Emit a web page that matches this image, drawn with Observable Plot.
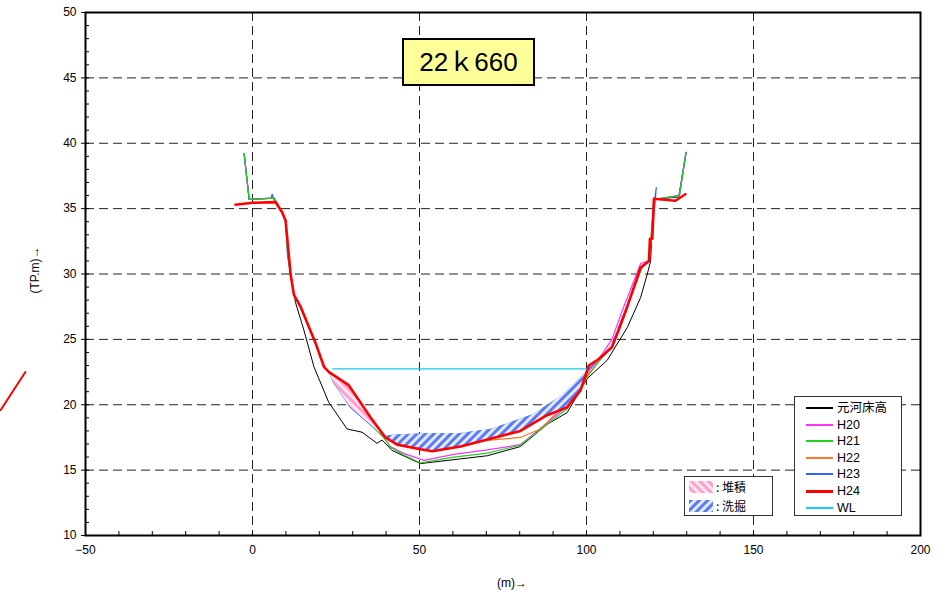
<!DOCTYPE html>
<html><head><meta charset="utf-8">
<script src="https://cdn.jsdelivr.net/npm/d3@7"></script>
<script src="https://cdn.jsdelivr.net/npm/@observablehq/plot@0.6"></script>
<style>
body{margin:0;background:#fff;font-family:"Liberation Sans",Arial,sans-serif}
#wrap{position:relative;width:952px;height:595px;overflow:hidden}
#wrap svg.main{position:absolute;left:0;top:0}
.ov{position:absolute;white-space:nowrap}
#title{left:402px;top:38px;width:129px;height:44px;background:#ffff99;border:2px solid #000;font-size:26px;line-height:44px;text-align:center;font-family:"Liberation Sans","Noto Sans CJK JP",sans-serif}
#ylab{left:35px;top:270px;font-size:12px;line-height:14px;transform:translate(-50%,-50%) rotate(-90deg)}
#xlab{left:512px;top:583px;font-size:12px;line-height:14px;transform:translate(-50%,-50%)}
#legend{left:794px;top:396px;width:106px;height:118px;border:1px solid #333;background:#fff;font-size:12.5px;font-family:"Liberation Sans","Noto Sans CJK JP",sans-serif}
.row{position:absolute;left:11px;height:16px;line-height:16px;display:flex;align-items:center}
.row span.sw{display:inline-block;width:27px;margin-right:4px}
#hlegend{left:684px;top:476px;width:87px;height:38px;border:1px solid #333;background:#fff;font-size:12px;font-family:"Noto Sans CJK JP",sans-serif}
.hrow{position:absolute;left:4px;height:16px;line-height:16px;display:flex;align-items:center}
</style></head><body><div id="wrap"></div>
<script>
// ---- data (x: distance m, y: TP.m) ----
const seriesNames = ["元河床高","H20","H21","H22","H23","H24","WL"];
const seriesColors = ["#000000","#ff33ff","#22d022","#ff7722","#3366ff","#ff0000","#18c8f0"];

const bedOriginal = [[-2.5,39.2],[-1.0,35.7],[6.5,35.8],[8.9,34.7],[9.9,34.1],[11.4,30.0],[12.9,27.8],[15.4,25.7],[18.4,22.9],[22.8,20.2],[28.3,18.15],[32.8,17.9],[37.3,17.05],[38.8,17.3],[41.8,16.5],[50.3,15.5],[70.3,16.1],[80.2,16.8],[88.2,18.5],[94.2,19.4],[100.2,22.0],[106.2,23.4],[112.2,25.9],[116.2,28.2],[118.2,30.0],[119.2,31.0],[119.5,32.7],[120.2,35.7],[127.6,35.9],[129.8,39.3]];
const h20 = [[-2.5,39.2],[-1.0,35.7],[6.5,35.8],[8.9,34.7],[9.9,34.1],[11.4,30.0],[12.4,28.4],[14.5,27.4],[19.0,24.6],[21.6,22.9],[23.2,22.4],[25.3,21.6],[32.3,19.3],[39.3,17.5],[41.3,16.8],[45.0,16.3],[51.3,15.75],[60.3,16.2],[70.3,16.55],[80.2,16.95],[88.2,18.6],[94.2,19.9],[100.2,22.4],[104.2,23.7],[107.6,25.0],[110.7,27.2],[116.2,30.8],[118.7,31.0],[119.3,32.7],[120.2,35.7],[127.8,36.0],[129.8,39.3]];
const h21 = [[-2.5,39.2],[-1.0,35.7],[6.5,35.8],[8.9,34.7],[9.9,34.1],[10.5,31.5],[11.4,30.0],[12.4,28.4],[14.5,27.4],[19.0,24.6],[21.6,22.9],[23.2,22.4],[25.3,21.6],[32.3,19.3],[39.3,17.5],[41.3,16.75],[45.0,16.2],[50.3,15.55],[60.3,16.0],[70.3,16.3],[80.2,16.9],[88.2,18.5],[94.2,19.7],[99.2,21.9],[104.0,23.4],[107.6,24.5],[109.6,25.8],[112.2,27.5],[116.5,30.4],[118.7,31.0],[119.3,32.7],[120.2,35.7],[127.8,36.0],[129.8,39.3]];
const h22 = [[-2.5,39.2],[-1.0,35.7],[6.5,35.8],[8.9,34.7],[9.9,34.1],[11.4,30.0],[12.4,28.4],[14.5,27.4],[19.0,24.6],[21.6,22.9],[23.2,22.4],[25.3,21.6],[32.3,19.3],[39.3,17.5],[44.3,17.35],[54.3,17.3],[62.3,17.3],[71.3,17.3],[80.2,17.5],[86.2,18.15],[91.7,19.55],[98.2,21.1],[99.7,21.9],[104.0,23.5],[107.6,24.5],[109.6,25.8],[112.2,27.5],[116.5,30.5],[118.7,31.0],[119.3,32.7],[120.2,35.7],[127.8,36.0],[129.8,39.3]];
const h23 = [[-2.5,39.2],[-1.0,35.7],[5.5,35.8],[5.9,36.1],[6.5,35.6],[8.9,34.7],[9.9,34.1],[10.3,32.4],[10.5,31.4],[11.4,30.0],[12.4,28.4],[14.4,27.5],[18.9,24.7],[21.4,22.9],[22.9,22.5],[24.3,21.7],[29.3,19.8],[34.3,18.7],[39.3,17.6],[44.3,17.7],[54.3,17.8],[62.3,17.8],[71.3,18.1],[79.2,18.8],[84.2,19.25],[88.2,19.95],[92.2,20.6],[94.2,21.1],[100.2,22.6],[104.0,23.6],[107.6,24.6],[109.6,25.9],[112.2,27.6],[116.4,30.5],[118.7,31.0],[119.5,32.7],[120.9,36.6],[120.4,35.7],[127.8,36.0],[129.8,39.3]];
const h24 = [[-5.1,35.3],[0.0,35.45],[6.9,35.5],[8.9,34.7],[9.9,34.1],[11.4,30.0],[12.4,28.4],[14.4,27.5],[18.9,24.7],[21.4,22.9],[22.9,22.5],[28.8,21.5],[35.3,19.05],[39.8,17.5],[43.3,16.95],[50.3,16.6],[53.8,16.45],[62.3,16.8],[71.3,17.4],[80.2,18.0],[88.2,19.2],[94.2,19.8],[98.2,21.1],[100.7,23.0],[103.7,23.5],[107.6,24.4],[109.6,25.7],[112.2,27.5],[116.2,30.5],[118.7,31.0],[119.0,32.7],[119.7,32.7],[120.2,35.75],[126.6,35.6],[129.6,36.1]];
const waterLevel = [[24.0,22.75],[100.0,22.75]];
const offFrameLine = [[-75.4,19.6],[-68.0,22.5]];

const xTicks = [-50,0,50,100,150,200];
const yTicks = [10,15,20,25,30,35,40,45,50];
const xMinor = d3.range(-50,201,10);
const yMinor = d3.range(10,51,1);
const titleText = "22ｋ660";
const hatchNames = ["堆積","洗掘"];

// ---- derived: hatch band between H23 (previous) and H24 ----
function interp(s, x){
  for(let i=0;i<s.length-1;i++){
    const [x0,y0]=s[i],[x1,y1]=s[i+1];
    if((x>=x0&&x<=x1)){ return x1===x0?y0:y0+(y1-y0)*(x-x0)/(x1-x0); }
  }
  return NaN;
}
const lo=22.9, hi=110;
let gx = Array.from(new Set([...h23,...h24].map(d=>d[0]).filter(x=>x>=lo&&x<=hi))).sort((a,b)=>a-b);
const band=[];
for(let i=0;i<gx.length;i++){
  const a=gx[i];
  band.push({x:a,prev:interp(h23,a),cur:interp(h24,a)});
  if(i<gx.length-1){
    const b=gx[i+1];
    const da=interp(h24,a)-interp(h23,a), db=interp(h24,b)-interp(h23,b);
    if(da*db<0){const c=a+(b-a)*da/(da-db); band.push({x:c,prev:interp(h23,c),cur:interp(h24,c)});}
  }
}

const lineMark=(data,color,w)=>Plot.line(data,{x:d=>d[0],y:d=>d[1],stroke:color,strokeWidth:w,strokeLinejoin:"round"});

const plot = Plot.plot({
  width:952, height:595,
  marginLeft:85, marginRight:32, marginTop:12, marginBottom:60,
  style:{fontFamily:"Liberation Sans, Arial, sans-serif", fontSize:"12px", background:"transparent"},
  x:{domain:[-50,200]},
  y:{domain:[10,50]},
  marks:[
    Plot.gridX(xTicks.slice(1,-1),{stroke:"#222",strokeOpacity:1,strokeDasharray:"9,5"}),
    Plot.gridY(yTicks.slice(1,-1),{stroke:"#222",strokeOpacity:1,strokeDasharray:"9,5"}),
    Plot.ruleX(xMinor,{y1:10,y2:10.3,stroke:"#000"}),
    Plot.ruleY(yMinor,{x1:-50,x2:-48.8,stroke:"#000"}),
    Plot.axisX(xTicks,{tickSize:0,tickPadding:10,fontSize:12,label:null}),
    Plot.axisY(yTicks,{tickSize:4,tickPadding:5,fontSize:12,label:null}),
    lineMark(bedOriginal,seriesColors[0],1),
    lineMark(h20,seriesColors[1],1.2),
    lineMark(h22,seriesColors[3],1.2),
    lineMark(h23,seriesColors[4],1.2),
    lineMark(h21,seriesColors[2],1.2),
    Plot.areaY(band,{x:"x",y1:"prev",y2:d=>Math.max(d.prev,d.cur),fill:"url(#hatchPink)"}),
    Plot.areaY(band,{x:"x",y1:d=>Math.min(d.prev,d.cur),y2:"prev",fill:"url(#hatchBlue)"}),
    lineMark(h24,seriesColors[5],2.6),
    lineMark(waterLevel,seriesColors[6],1.2),
    lineMark(offFrameLine,seriesColors[5],2),
    Plot.frame({stroke:"#000",strokeWidth:2})
  ]
});
plot.classList.add("main");
const defs = d3.select(plot).insert("defs",":first-child");
function pattern(id,bg,fg,angle){
  const p=defs.append("pattern").attr("id",id).attr("patternUnits","userSpaceOnUse").attr("width",6).attr("height",6).attr("patternTransform",`rotate(${angle})`);
  p.append("rect").attr("width",6).attr("height",6).attr("fill",bg);
  p.append("rect").attr("width",3).attr("height",6).attr("fill",fg);
}
pattern("hatchPink","#ffe6f1","#ff9fcc",-45);
pattern("hatchBlue","#e3eaff","#5a7cf0",45);

const wrap=document.getElementById("wrap");
wrap.appendChild(plot);

function ov(id,html){const d=document.createElement("div");d.className="ov";d.id=id;d.innerHTML=html;wrap.appendChild(d);return d;}
ov("title",titleText);
ov("ylab","(TP.m)→");
ov("xlab","(m)→");
const lg=ov("legend","");
seriesNames.forEach((n,i)=>{
  const r=document.createElement("div");r.className="row";r.style.top=(3+i*16.6)+"px";
  r.innerHTML=`<span class="sw" style="border-top:${i===5?3:2}px solid ${seriesColors[i]}"></span><span>${n}</span>`;
  lg.appendChild(r);
});
const hl=ov("hlegend","");
["hatchPink","hatchBlue"].forEach((p,i)=>{
  const r=document.createElement("div");r.className="hrow";r.style.top=(2+i*18.5)+"px";
  r.innerHTML=`<svg width="24" height="12" style="margin-right:3px;flex:none"><rect width="24" height="12" fill="url(#${p})"/></svg><span>: ${hatchNames[i]}</span>`;
  hl.appendChild(r);
});
</script></body></html>
